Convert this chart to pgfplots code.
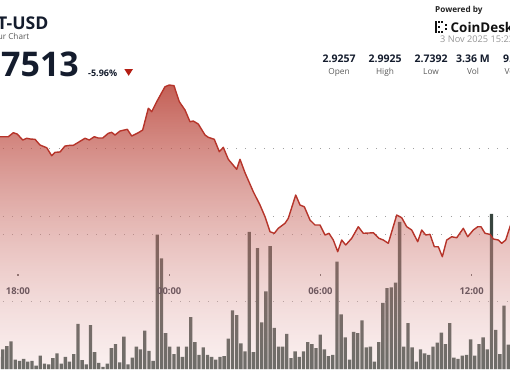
\documentclass[border=0pt]{standalone}
\usepackage{pgfplots}
\pgfplotsset{compat=1.18}
\usepackage{pgfplotstable}
\usetikzlibrary{fadings}
\usepackage{fontspec}
\setmainfont{Open Sans}
\definecolor{navy}{RGB}{20,28,45}
\definecolor{bardark}{RGB}{55,68,62}
\definecolor{linered}{RGB}{182,52,42}
\definecolor{areatop}{RGB}{176,43,30}
\definecolor{areabot}{RGB}{238,205,205}
\definecolor{griddot}{RGB}{160,160,160}
\definecolor{ticktxt}{RGB}{30,36,50}
\definecolor{subgray}{RGB}{90,90,90}
\definecolor{dategray}{RGB}{150,150,150}
\definecolor{downred}{RGB}{180,30,20}
\definecolor{tickdot}{RGB}{90,90,90}
\tikzfading[name=areafade, top color=transparent!25, bottom color=transparent!70]

\pgfplotstableread{
t p
17.200 2.9165
17.286 2.9165
17.615 2.9165
17.814 2.9223
17.972 2.9204
18.187 2.9117
18.345 2.9142
18.504 2.9131
18.675 2.9127
18.873 2.9044
19.139 2.9004
19.337 2.8888
19.468 2.8937
19.667 2.8942
19.865 2.9029
20.064 2.9039
20.194 2.9039
20.393 2.9083
20.659 2.9142
20.829 2.9117
21.028 2.9165
21.187 2.9146
21.361 2.9146
21.583 2.9215
21.718 2.9229
21.849 2.9190
22.048 2.9248
22.337 2.9273
22.512 2.9175
22.774 2.9223
22.948 2.9263
23.171 2.9580
23.306 2.9530
23.504 2.9676
23.833 2.9895
24.004 2.9920
24.190 2.9910
24.401 2.9676
24.627 2.9555
24.825 2.9384
24.956 2.9394
25.155 2.9350
25.421 2.9190
25.552 2.9156
25.790 2.9127
25.988 2.8946
26.147 2.9010
26.345 2.8835
26.679 2.8689
26.810 2.8835
27.008 2.8639
27.337 2.8362
27.603 2.8168
27.802 2.7997
28.000 2.7778
28.171 2.7755
28.329 2.7828
28.595 2.7901
28.726 2.7974
29.020 2.8314
29.190 2.8168
29.361 2.8143
29.587 2.7949
29.786 2.7876
29.984 2.7876
30.183 2.7730
30.341 2.7755
30.512 2.7657
30.687 2.7486
30.845 2.7657
31.004 2.7584
31.242 2.7682
31.504 2.7851
31.702 2.7755
32.099 2.7763
32.325 2.7682
32.496 2.7657
32.694 2.7609
33.028 2.8022
33.226 2.7983
33.425 2.7851
33.623 2.7803
33.861 2.7632
34.020 2.7803
34.179 2.7730
34.349 2.7740
34.520 2.7559
34.679 2.7559
34.837 2.7413
35.012 2.7657
35.210 2.7705
35.409 2.7690
35.671 2.7828
35.845 2.7705
36.067 2.7803
36.242 2.7851
36.373 2.7851
36.532 2.7755
36.730 2.7740
36.861 2.7672
37.060 2.7657
37.194 2.7609
37.353 2.7657
37.524 2.7851
37.600 2.7930
}\price

\pgfplotstableread{
v
18
29
34
41
14
12
15
11
12
5
20
8
7
16
23
8
18
11
22
67
13
7
65
25
9
3
8
31
37
10
48
7
17
33
29
57
27
12
199
164
53
33
22
33
18
33
77
40
21
32
21
18
14
18
19
45
87
80
38
26
203
25
179
69
115
182
61
33
33
52
16
26
18
26
40
37
31
51
29
19
21
159
81
47
14
55
53
72
32
33
11
40
98
120
121
128
218
33
68
32
11
29
23
21
33
39
54
37
68
17
15
20
21
44
20
37
47
29
230
58
22
94
36
}\volume

\pgfplotsset{base/.style={at={(0bp,0bp)}, anchor=south west,
  width=510bp, height=369bp, scale only axis,
  xmin=17.2857, xmax=37.5238,
  axis line style={draw=none}, xtick=\empty,
  yticklabels={}, ytick style={draw=none},
  ymajorgrids,
  grid style={griddot, line width=1bp, dash pattern=on 1bp off 8.33bp, dash phase=6.6bp}}}

\begin{document}
\begin{tikzpicture}[x=1bp,y=1bp]
\useasboundingbox (0,0) rectangle (510,369);
\clip (0,0) rectangle (510,369);

% volume bars
\begin{axis}[base, ybar, ymin=0, ymax=546.7, ytick={100,200}]
\addplot[fill=bardark, draw=none, bar width=0.132]
  table[x expr=17.2281+0.16577*\coordindex, y=v] {\volume};
\end{axis}

% price area and line, time ticks
\begin{axis}[base, ymin=2.5774, ymax=3.1161, ytick={2.8,2.9},
  xtick={18,24,30,36}, xticklabels={18:00,00:00,06:00,12:00},
  xtick pos=bottom, tick align=center, major tick length=1.3bp,
  xtick style={draw=tickdot, line width=1.3bp, yshift=94bp},
  xticklabel style={anchor=center, yshift=79bp, text=ticktxt,
    font=\fontsize{9.4bp}{10bp}\selectfont\bfseries}]
\addplot[draw=none, top color=areatop, bottom color=areabot, path fading=areafade]
  table[x=t, y=p] {\price} -- (axis cs:37.6,2.5774) -- (axis cs:17.2,2.5774) -- cycle;
\addplot[linered, line width=1.4bp, line join=round] table[x=t, y=p] {\price};
\end{axis}

% header, left
\node[anchor=base east, inner sep=0, text=navy, font=\fontsize{17.6bp}{18bp}\selectfont\bfseries] at (48.5,339.7) {DOT-USD};
\node[anchor=base east, inner sep=0, text=subgray, font=\fontsize{8.2bp}{9bp}\selectfont] at (29.5,329.5) {24 Hour Chart};
\node[anchor=base east, inner sep=0, text=navy, font=\fontsize{34bp}{36bp}\selectfont\bfseries] at (79,293) {2.7513};
\node[anchor=base west, inner sep=0, text=navy, font=\fontsize{9bp}{10bp}\selectfont\bfseries] at (88,293) {-5.96\%};
\fill[downred] (124.3,300) -- (133,300) -- (128.65,293.2) -- cycle;

% header, right
\node[anchor=base west, inner sep=0, text={rgb,255:red,35;green,35;blue,35}, font=\fontsize{8.2bp}{9bp}\selectfont\bfseries] at (435,356.7) {Powered by};
\begin{scope}[fill={rgb,255:red,17;green,17;blue,17}]
\fill (435,335.7) rectangle (437.4,348.3);
\fill (438.4,346.1) rectangle (440.4,348.3);
\fill (441.4,346.1) rectangle (443.4,348.3);
\fill (438.4,335.7) rectangle (440.4,337.9);
\fill (441.4,335.7) rectangle (443.4,337.9);
\fill (438.4,341.0) rectangle (440.4,343.0);
\fill (444.6,343.2) rectangle (446.6,345.2);
\fill (444.6,338.8) rectangle (446.6,340.8);
\end{scope}
\node[anchor=base west, inner sep=0, text={rgb,255:red,17;green,17;blue,17}, font=\fontsize{13.4bp}{14bp}\selectfont\bfseries] at (450.5,337) {CoinDesk};
\node[anchor=base west, inner sep=0, text=dategray, font=\fontsize{9.2bp}{10bp}\selectfont] at (440,326.3) {3 Nov 2025 15:23};

\foreach \xx/\val/\lab in {339/2.9257/Open, 385/2.9925/High, 431/2.7392/Low, 473/3.36 M/Vol, 520/9.58 M/Vol USD}{
  \node[anchor=base, inner sep=0, text=navy, font=\fontsize{10.5bp}{11bp}\selectfont\bfseries] at (\xx,306.3) {\val};
  \node[anchor=base, inner sep=0, text=subgray, font=\fontsize{8.3bp}{9bp}\selectfont] at (\xx,294.5) {\lab};
}
\end{tikzpicture}
\end{document}
